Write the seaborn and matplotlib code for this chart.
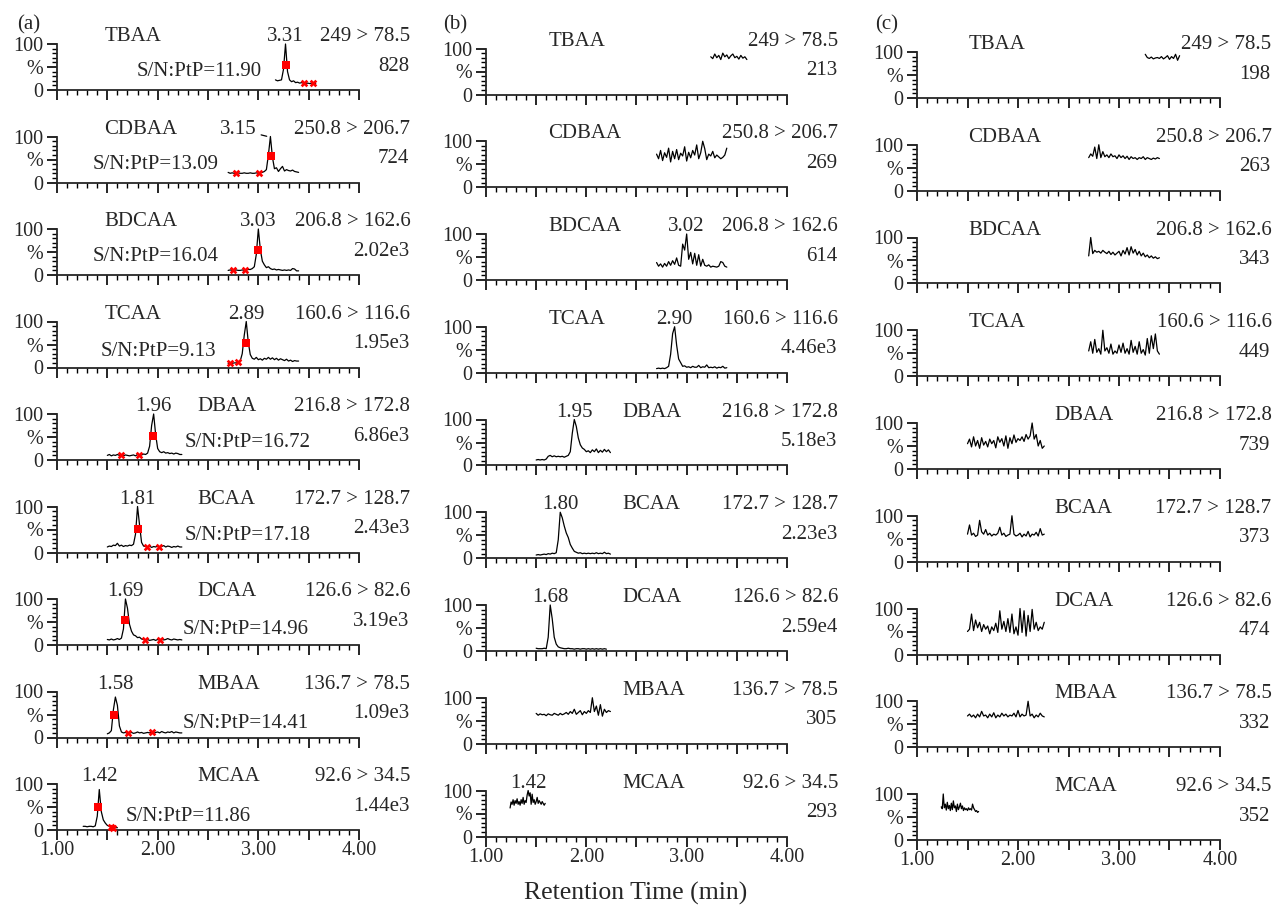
import numpy as np
import matplotlib.pyplot as plt
import seaborn as sns

# labels shared by the three columns
compounds = ['TBAA', 'CDBAA', 'BDCAA', 'TCAA', 'DBAA', 'BCAA', 'DCAA', 'MBAA', 'MCAA']
transitions = ['249 > 78.5', '250.8 > 206.7', '206.8 > 162.6', '160.6 > 116.6', '216.8 > 172.8',
               '172.7 > 128.7', '126.6 > 82.6', '136.7 > 78.5', '92.6 > 34.5']
intensity_a = ['828', '724', '2.02e3', '1.95e3', '6.86e3', '2.43e3', '3.19e3', '1.09e3', '1.44e3']
intensity_b = ['213', '269', '614', '4.46e3', '5.18e3', '2.23e3', '2.59e4', '305', '293']
intensity_c = ['198', '263', '343', '449', '739', '373', '474', '332', '352']
peak_rt_a = ['3.31', '3.15', '3.03', '2.89', '1.96', '1.81', '1.69', '1.58', '1.42']
peak_rt_b = [None, None, '3.02', '2.90', '1.95', '1.80', '1.68', None, '1.42']
sn_a = ['11.90', '13.09', '16.04', '9.13', '16.72', '17.18', '14.96', '14.41', '11.86']

# (a) chromatograms, % intensity on an even time grid
t_start_a = [3.17, 2.70, 2.70, 2.70, 1.50, 1.50, 1.50, 1.50, 1.26]
t_end_a = [3.57, 3.40, 3.40, 3.40, 2.24, 2.24, 2.24, 2.24, 1.60]
a_tbaa = [22, 20, 21, 22, 45, 100, 40, 22, 18, 20, 16, 17, 15, 16, 15, 14, 15, 14, 15, 14, 14]
a_cdbaa = [22, 20, 21, 20, 20, 21, 20, 20, 21, 20, 20, 21, 20, 20, 21, 20, 21, 22, 24, 28,
           60, 100, 55, 30, 32, 24, 30, 35, 25, 28, 26, 25, 27, 24, 23, 22]
a_bdcaa = [10, 11, 10, 10, 11, 10, 10, 11, 10, 11, 12, 12, 14, 18, 45, 100, 55, 30, 22, 16,
           18, 14, 12, 13, 11, 12, 11, 10, 11, 10, 11, 10, 14, 13, 9, 9]
a_tcaa = [9, 10, 9, 10, 10, 11, 14, 30, 70, 100, 55, 28, 20, 18, 22, 17, 19, 16, 20, 18,
          22, 18, 21, 17, 20, 16, 19, 17, 15, 18, 14, 16, 13, 15, 14, 14]
a_dbaa = [10, 12, 9, 11, 10, 12, 10, 11, 9, 11, 10, 9, 10, 11, 9, 12, 10, 11, 13, 12,
          15, 30, 75, 100, 55, 25, 18, 16, 18, 15, 16, 14, 15, 13, 15, 14, 12, 12]
a_bcaa = [12, 14, 13, 16, 15, 20, 14, 16, 13, 15, 14, 16, 15, 18, 40, 100, 60, 22, 14, 13,
          12, 14, 11, 13, 12, 14, 11, 13, 15, 12, 14, 13, 11, 13, 12, 14, 12, 12]
a_dcaa = [12, 11, 13, 11, 12, 14, 12, 15, 35, 100, 80, 45, 30, 22, 20, 16, 17, 13, 12, 11,
          12, 10, 11, 12, 10, 12, 11, 13, 11, 12, 14, 12, 11, 13, 12, 11, 12, 11]
a_mbaa = [8, 10, 15, 60, 88, 70, 25, 12, 10, 11, 9, 10, 11, 9, 10, 12, 10, 11, 9, 10,
          11, 10, 12, 9, 11, 12, 10, 13, 11, 10, 12, 11, 13, 10, 12, 11, 10, 10]
a_mcaa = [8, 8, 7, 8, 8, 7, 9, 30, 88, 40, 22, 15, 10, 8, 6, 5, 5, 5]

# S/N integration marks on the (a) traces
half_t_a = [3.27, 3.13, 3.00, 2.88, 1.95, 1.80, 1.68, 1.57, 1.41]
half_y_a = [55, 57, 55, 54, 52, 52, 55, 50, 50]
noise_t_a = [(3.45, 3.54), (2.78, 3.01), (2.75, 2.87), (2.72, 2.80), (1.64, 1.81),
             (1.89, 2.01), (1.87, 2.02), (1.71, 1.94), (1.54, 1.56)]

# (b)
t_start_b = [3.24, 2.70, 2.70, 2.70, 1.50, 1.50, 1.50, 1.50, 1.24]
t_end_b = [3.60, 3.40, 3.40, 3.40, 2.24, 2.24, 2.20, 2.24, 1.59]
b_tbaa = [82, 78, 88, 80, 85, 76, 90, 82, 86, 78, 84, 88, 80, 83, 77, 85, 79, 82, 76]
b_cdbaa = [72, 62, 80, 58, 75, 65, 85, 55, 78, 62, 82, 60, 74, 68, 88, 57, 76, 64, 80, 70,
           92, 62, 75, 100, 84, 60, 72, 68, 78, 64, 70, 66, 62, 65, 70, 85]
b_bdcaa = [38, 30, 35, 28, 36, 30, 40, 32, 42, 34, 48, 32, 30, 78, 65, 100, 45, 60, 35, 58,
           32, 55, 30, 45, 32, 30, 33, 28, 30, 29, 28, 30, 40, 38, 30, 28]
b_tcaa = [9, 10, 9, 10, 9, 11, 14, 40, 85, 100, 60, 30, 22, 14, 15, 12, 13, 11, 14, 12,
          12, 16, 11, 13, 12, 17, 11, 12, 11, 13, 10, 12, 11, 14, 10, 11]
b_dbaa = [12, 13, 12, 13, 12, 14, 20, 22, 19, 21, 19, 20, 19, 20, 18, 20, 22, 30, 70, 100,
          85, 60, 45, 38, 35, 30, 32, 28, 34, 30, 36, 28, 33, 29, 35, 30, 34, 28]
b_bcaa = [7, 8, 7, 8, 9, 8, 10, 9, 11, 10, 12, 40, 100, 88, 70, 55, 45, 30, 22, 15,
          13, 11, 12, 10, 11, 10, 11, 10, 11, 10, 12, 10, 11, 10, 13, 10, 11, 9]
b_dcaa = [6, 5, 5, 5, 6, 5, 30, 100, 70, 30, 15, 9, 7, 6, 5, 5, 6, 5, 5, 4,
          5, 5, 4, 5, 5, 4, 5, 4, 5, 4, 5, 4, 5, 4, 5, 4]
b_mbaa = [66, 62, 65, 63, 64, 61, 65, 63, 62, 66, 64, 62, 66, 63, 65, 68, 64, 70, 66, 75,
          64, 68, 72, 63, 70, 66, 72, 68, 100, 70, 82, 62, 85, 60, 75, 68, 72, 70]
b_mcaa = [62, 75, 70, 80, 68, 78, 72, 82, 70, 76, 68, 80, 72, 85, 70, 78, 74, 90, 100, 88,
          95, 70, 92, 74, 80, 70, 76, 85, 72, 78, 74, 70, 76, 72, 68, 72]

# (c)
t_start_c = [3.26, 2.70, 2.70, 2.70, 1.50, 1.50, 1.50, 1.50, 1.24]
t_end_c = [3.60, 3.40, 3.40, 3.40, 2.26, 2.26, 2.26, 2.26, 1.61]
c_tbaa = [95, 88, 86, 89, 85, 87, 88, 86, 90, 85, 88, 92, 84, 90, 86, 95, 82, 92]
c_cdbaa = [72, 80, 75, 95, 70, 100, 72, 85, 74, 78, 72, 80, 74, 76, 70, 78, 72, 76, 70, 75,
           68, 74, 70, 72, 68, 72, 70, 74, 68, 72, 70, 68, 71, 69, 72, 70]
c_bdcaa = [60, 100, 65, 72, 68, 70, 66, 72, 68, 65, 70, 63, 68, 62, 66, 70, 60, 72, 64, 78,
           62, 80, 66, 74, 62, 70, 60, 66, 58, 62, 56, 60, 55, 58, 54, 56]
c_tcaa = [55, 75, 50, 80, 52, 60, 48, 100, 55, 62, 50, 70, 48, 55, 50, 68, 52, 72, 50, 60,
          48, 78, 52, 65, 48, 75, 50, 58, 46, 82, 50, 88, 60, 92, 55, 48]
c_dbaa = [55, 65, 48, 70, 50, 62, 45, 68, 52, 60, 48, 65, 55, 62, 46, 70, 58, 66, 50, 72,
          45, 68, 55, 74, 58, 66, 62, 70, 60, 75, 65, 72, 100, 65, 75, 50, 62, 45, 50]
c_bcaa = [60, 80, 58, 62, 55, 58, 90, 65, 60, 70, 58, 62, 56, 60, 58, 62, 75, 58, 62, 55,
          58, 60, 100, 60, 56, 58, 62, 54, 60, 56, 66, 54, 60, 58, 64, 56, 72, 58, 60]
c_dcaa = [50, 55, 88, 52, 75, 58, 70, 50, 65, 55, 62, 45, 60, 52, 68, 48, 95, 55, 72, 50,
          78, 48, 88, 45, 60, 42, 100, 48, 95, 40, 85, 50, 98, 55, 70, 52, 60, 55, 70]
c_mbaa = [68, 72, 66, 70, 64, 72, 66, 78, 68, 70, 64, 72, 66, 75, 64, 70, 66, 74, 68, 72,
          66, 70, 68, 74, 66, 80, 66, 72, 68, 70, 100, 68, 72, 64, 70, 66, 74, 68, 66]
c_mcaa = [72, 68, 100, 70, 78, 65, 82, 68, 75, 64, 80, 66, 85, 70, 74, 62, 78, 66, 72, 80,
          68, 74, 64, 70, 66, 68, 64, 70, 66, 68, 65, 78, 70, 66, 62, 64, 60, 62]

traces = [
    (t_start_a, t_end_a, [a_tbaa, a_cdbaa, a_bdcaa, a_tcaa, a_dbaa, a_bcaa, a_dcaa, a_mbaa, a_mcaa]),
    (t_start_b, t_end_b, [b_tbaa, b_cdbaa, b_bdcaa, b_tcaa, b_dbaa, b_bcaa, b_dcaa, b_mbaa, b_mcaa]),
    (t_start_c, t_end_c, [c_tbaa, c_cdbaa, c_bdcaa, c_tcaa, c_dbaa, c_bcaa, c_dcaa, c_mbaa, c_mcaa]),
]
intensities = [intensity_a, intensity_b, intensity_c]

sns.set_style('ticks')
plt.rcParams['font.family'] = ['Liberation Serif', 'DejaVu Serif']
FS = 15

W, H = 1277, 915
fig = plt.figure(figsize=(W / 100, H / 100), dpi=100)

# pixel layout of each column: x of 1.00 and 4.00, y of the first 0 line, row step
col_x = [(57, 359), (486, 787), (917, 1220)]
col_y0 = [90, 94.5, 98]
col_step = [92.5, 92.75, 92.75]
panel_h = 46
name_x = [(1.47, 2.39), (1.62, 2.36), (1.51, 2.36)]
sn_x = [1.79, 1.35, 1.35, 1.43, 2.27, 2.27, 2.25, 2.25, 1.68]
sn_y = [41, 39, 40, 35, 37, 38, 33, 30, 29]

for c in range(3):
    x0, x1 = col_x[c]
    starts, ends, series = traces[c]
    for r in range(9):
        yb = col_y0[c] + r * col_step[c]
        ax = fig.add_axes([x0 / W, 1 - yb / H, (x1 - x0) / W, panel_h / H])
        vals = np.array(series[r], dtype=float)
        t = np.linspace(starts[r], ends[r], len(vals))
        sns.lineplot(x=t, y=vals, ax=ax, color='black', linewidth=0.9, sort=False, clip_on=False)

        ax.set_xlim(1, 4)
        ax.set_ylim(0, 100)
        sns.despine(ax=ax)
        for s in ['left', 'bottom']:
            ax.spines[s].set_linewidth(1.3)
        ax.set_xticks(np.arange(1, 4.01, 0.5))
        ax.set_xticks(np.arange(1, 4.01, 0.1), minor=True)
        ax.set_yticks([0, 50, 100])
        ax.set_yticks(np.arange(0, 101, 10), minor=True)
        if r == 8:
            ax.set_xticklabels(['1.00', '', '2.00', '', '3.00', '', '4.00'])
        else:
            ax.set_xticklabels([''] * 7)
        ax.set_yticklabels(['0', '%', '100'])
        ax.tick_params(axis='both', which='major', direction='out', length=7, width=1.2,
                       labelsize=14.5, color='black')
        ax.tick_params(axis='both', which='minor', direction='out', length=3.5, width=1, color='black')
        ax.tick_params(axis='x', pad=1)
        ax.tick_params(axis='y', pad=3)
        ax.set_xlabel('')
        ax.set_ylabel('')

        nx = name_x[c][0] if r < 4 else name_x[c][1]
        ax.text(nx, 116, compounds[r], ha='left', va='center', fontsize=FS)
        ax.text(4.51, 116, transitions[r], ha='right', va='center', fontsize=FS)
        ax.text(4.50, 52, intensities[c][r], ha='right', va='center', fontsize=FS)

        apex = t[np.argmax(vals)]
        if c == 0:
            if r == 1:
                ax.annotate(peak_rt_a[r], xy=(apex - 0.01, 99), xytext=(2.80, 116),
                            ha='center', va='center', fontsize=FS,
                            arrowprops=dict(arrowstyle='-', lw=0.9, color='black',
                                            shrinkA=1, shrinkB=2))
            else:
                ax.text(apex, 116, peak_rt_a[r], ha='center', va='center', fontsize=FS)
            ax.text(sn_x[r], sn_y[r], 'S/N:PtP=' + sn_a[r], ha='left', va='center', fontsize=FS)
            ax.scatter([half_t_a[r]], [half_y_a[r]], marker='s', s=28, color='red',
                       linewidths=0, zorder=3, clip_on=False)
            nt = np.array(noise_t_a[r])
            ax.scatter(nt, np.interp(nt, t, vals), marker='X', s=30, color='red',
                       linewidths=0, zorder=3, clip_on=False)
        elif c == 1 and peak_rt_b[r] is not None:
            ax.text(apex, 116, peak_rt_b[r], ha='center', va='center', fontsize=FS)

for lab, px in zip(['(a)', '(b)', '(c)'], [17, 443, 875]):
    fig.text(px / W, 1 - 25 / H, lab, ha='left', va='center', fontsize=FS)

fig.text(636 / W, 1 - 893 / H, 'Retention Time (min)', ha='center', va='center', fontsize=18.5)

fig.savefig('out.png', dpi=100)
